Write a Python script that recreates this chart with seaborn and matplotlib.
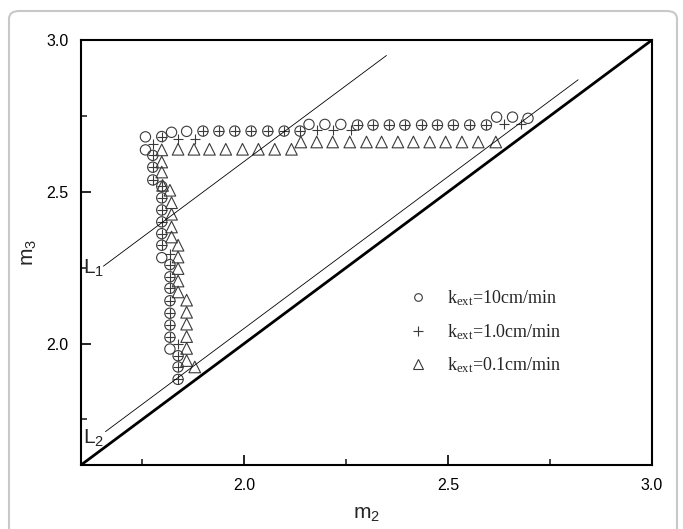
import matplotlib
matplotlib.use("Agg")
import pandas as pd
import matplotlib.pyplot as plt
import seaborn as sns
from matplotlib.lines import Line2D
from matplotlib.patches import FancyBboxPatch
from matplotlib.ticker import MultipleLocator

# k_ext = 10 cm/min  (open circles)
m2_k10 = [1.838, 1.838, 1.838, 1.818, 1.818, 1.818, 1.818, 1.818, 1.818, 1.818, 1.818,
          1.798, 1.798, 1.798, 1.798, 1.798, 1.798, 1.798, 1.776, 1.776, 1.776, 1.758, 1.758,
          1.798, 1.822, 1.859,
          1.899, 1.938, 1.977, 2.017, 2.058, 2.098, 2.137,
          2.159, 2.198, 2.237,
          2.278, 2.316, 2.356, 2.394, 2.435, 2.474, 2.513, 2.553, 2.594,
          2.619, 2.658, 2.696]
m3_k10 = [1.882, 1.923, 1.960, 1.982, 2.021, 2.061, 2.100, 2.141, 2.182, 2.220, 2.260,
          2.283, 2.324, 2.362, 2.401, 2.440, 2.480, 2.518, 2.539, 2.581, 2.620, 2.638, 2.681,
          2.682, 2.696, 2.699,
          2.700, 2.700, 2.700, 2.700, 2.700, 2.700, 2.700,
          2.722, 2.722, 2.722,
          2.720, 2.720, 2.720, 2.720, 2.720, 2.720, 2.720, 2.720, 2.720,
          2.746, 2.746, 2.742]

# k_ext = 1.0 cm/min  (crosses)
m2_k1 = [1.838, 1.838, 1.838, 1.838, 1.818, 1.818, 1.818, 1.818, 1.818, 1.818, 1.818, 1.818,
         1.798, 1.798, 1.798, 1.798, 1.798, 1.798, 1.776, 1.776, 1.776, 1.777,
         1.798, 1.838, 1.879,
         1.899, 1.938, 1.977, 2.017, 2.058, 2.098, 2.137,
         2.178, 2.219, 2.261,
         2.278, 2.316, 2.356, 2.394, 2.435, 2.474, 2.513, 2.553, 2.594,
         2.638, 2.678]
m3_k1 = [1.882, 1.923, 1.960, 2.000, 2.021, 2.061, 2.100, 2.141, 2.182, 2.220, 2.260, 2.296,
         2.324, 2.362, 2.401, 2.440, 2.480, 2.518, 2.539, 2.581, 2.620, 2.656,
         2.682, 2.675, 2.675,
         2.700, 2.700, 2.700, 2.700, 2.700, 2.700, 2.700,
         2.702, 2.702, 2.702,
         2.720, 2.720, 2.720, 2.720, 2.720, 2.720, 2.720, 2.720, 2.720,
         2.722, 2.722]

# k_ext = 0.1 cm/min  (open triangles)
m2_k01 = [1.879, 1.859, 1.859, 1.859, 1.859, 1.859, 1.859, 1.838, 1.838, 1.838, 1.838, 1.838,
          1.822, 1.822, 1.822, 1.822, 1.818, 1.800, 1.798, 1.798, 1.798,
          1.838, 1.877, 1.915, 1.955, 1.996, 2.035, 2.075, 2.116,
          2.139, 2.178, 2.217, 2.259, 2.300, 2.337, 2.377, 2.415, 2.455, 2.494, 2.534, 2.574, 2.617]
m3_k01 = [1.923, 1.944, 1.984, 2.023, 2.064, 2.103, 2.143, 2.170, 2.206, 2.247, 2.285, 2.324,
          2.351, 2.384, 2.426, 2.464, 2.505, 2.521, 2.565, 2.598, 2.638,
          2.640, 2.640, 2.640, 2.640, 2.640, 2.640, 2.640, 2.640,
          2.664, 2.664, 2.664, 2.664, 2.664, 2.664, 2.664, 2.664, 2.664, 2.664, 2.664, 2.664, 2.664]

# reference lines
diag_x = [1.6, 3.0]
diag_y = [1.6, 3.0]
l1_x = [1.655, 2.349]
l1_y = [2.255, 2.949]
l2_x = [1.660, 2.819]
l2_y = [1.710, 2.869]

labels = [r'k$_{\rm ext}$=10cm/min',
          r'k$_{\rm ext}$=1.0cm/min',
          r'k$_{\rm ext}$=0.1cm/min']

sns.set_theme(style="ticks")
plt.rcParams['font.family'] = ['Liberation Sans', 'DejaVu Sans']
plt.rcParams['mathtext.fontset'] = 'custom'
plt.rcParams['mathtext.rm'] = 'Liberation Serif'
plt.rcParams['mathtext.it'] = 'Liberation Serif:italic'
plt.rcParams['mathtext.sf'] = 'Liberation Sans'

mk = '#3a3a3a'

fig = plt.figure(figsize=(6.83, 5.29), dpi=100)
ax = fig.add_axes([81 / 683, 1 - 465 / 529, 571 / 683, 425 / 529])

sns.scatterplot(x=m2_k10, y=m3_k10, marker='o', s=55, color=mk, facecolors='none',
                edgecolor=mk, linewidth=0.8, ax=ax)
sns.scatterplot(x=m2_k1, y=m3_k1, marker='+', s=60, color=mk, linewidth=0.8, ax=ax)
sns.scatterplot(x=m2_k01, y=m3_k01, marker='^', s=70, color=mk, facecolors='none',
                edgecolor=mk, linewidth=0.8, ax=ax)

ax.plot(diag_x, diag_y, color='black', lw=2.0, solid_capstyle='butt')
ax.plot(l1_x, l1_y, color='black', lw=0.6)
ax.plot(l2_x, l2_y, color='black', lw=0.6)

ax.text(1.630, 2.252, r'L$_\mathsf{1}$', fontsize=15, ha='center', va='center')
ax.text(1.631, 1.690, r'L$_\mathsf{2}$', fontsize=15, ha='center', va='center')

ax.set_xlim(1.6, 3.0)
ax.set_ylim(1.6, 3.0)
ax.xaxis.set_major_locator(MultipleLocator(0.5))
ax.yaxis.set_major_locator(MultipleLocator(0.5))
ax.xaxis.set_minor_locator(MultipleLocator(0.25))
ax.yaxis.set_minor_locator(MultipleLocator(0.25))
ax.tick_params(which='major', direction='in', length=7, width=1.2, labelsize=11.5, pad=9,
               colors='black')
ax.tick_params(which='minor', direction='in', length=4, width=1.2)
for sp in ax.spines.values():
    sp.set_linewidth(1.5)
    sp.set_color('black')

ax.set_xlabel(r'm$_\mathsf{2}$', fontsize=15, labelpad=8)
ax.set_ylabel(r'm$_\mathsf{3}$', fontsize=15, labelpad=6)

handles = [
    Line2D([], [], ls='none', marker='o', ms=5.5, mfc='none', mec=mk, mew=0.8),
    Line2D([], [], ls='none', marker='+', ms=7, mec=mk, mew=0.8),
    Line2D([], [], ls='none', marker='^', ms=6.5, mfc='none', mec=mk, mew=0.8),
]
ax.legend(handles, labels, loc='upper left', bbox_to_anchor=(0.574, 0.415),
          frameon=False, borderaxespad=0, borderpad=0, handlelength=1.0,
          handletextpad=1.1, labelspacing=0.75,
          prop={'family': 'Liberation Serif', 'size': 13})

border = FancyBboxPatch((9 / 683, -0.05), 668 / 683, 1.05 - 11 / 529,
                        boxstyle='round,pad=0,rounding_size=0.015',
                        transform=fig.transFigure, fill=False,
                        edgecolor='#c8c8c8', linewidth=1.5, clip_on=False)
fig.patches.append(border)

fig.savefig('out.png', dpi=100)
